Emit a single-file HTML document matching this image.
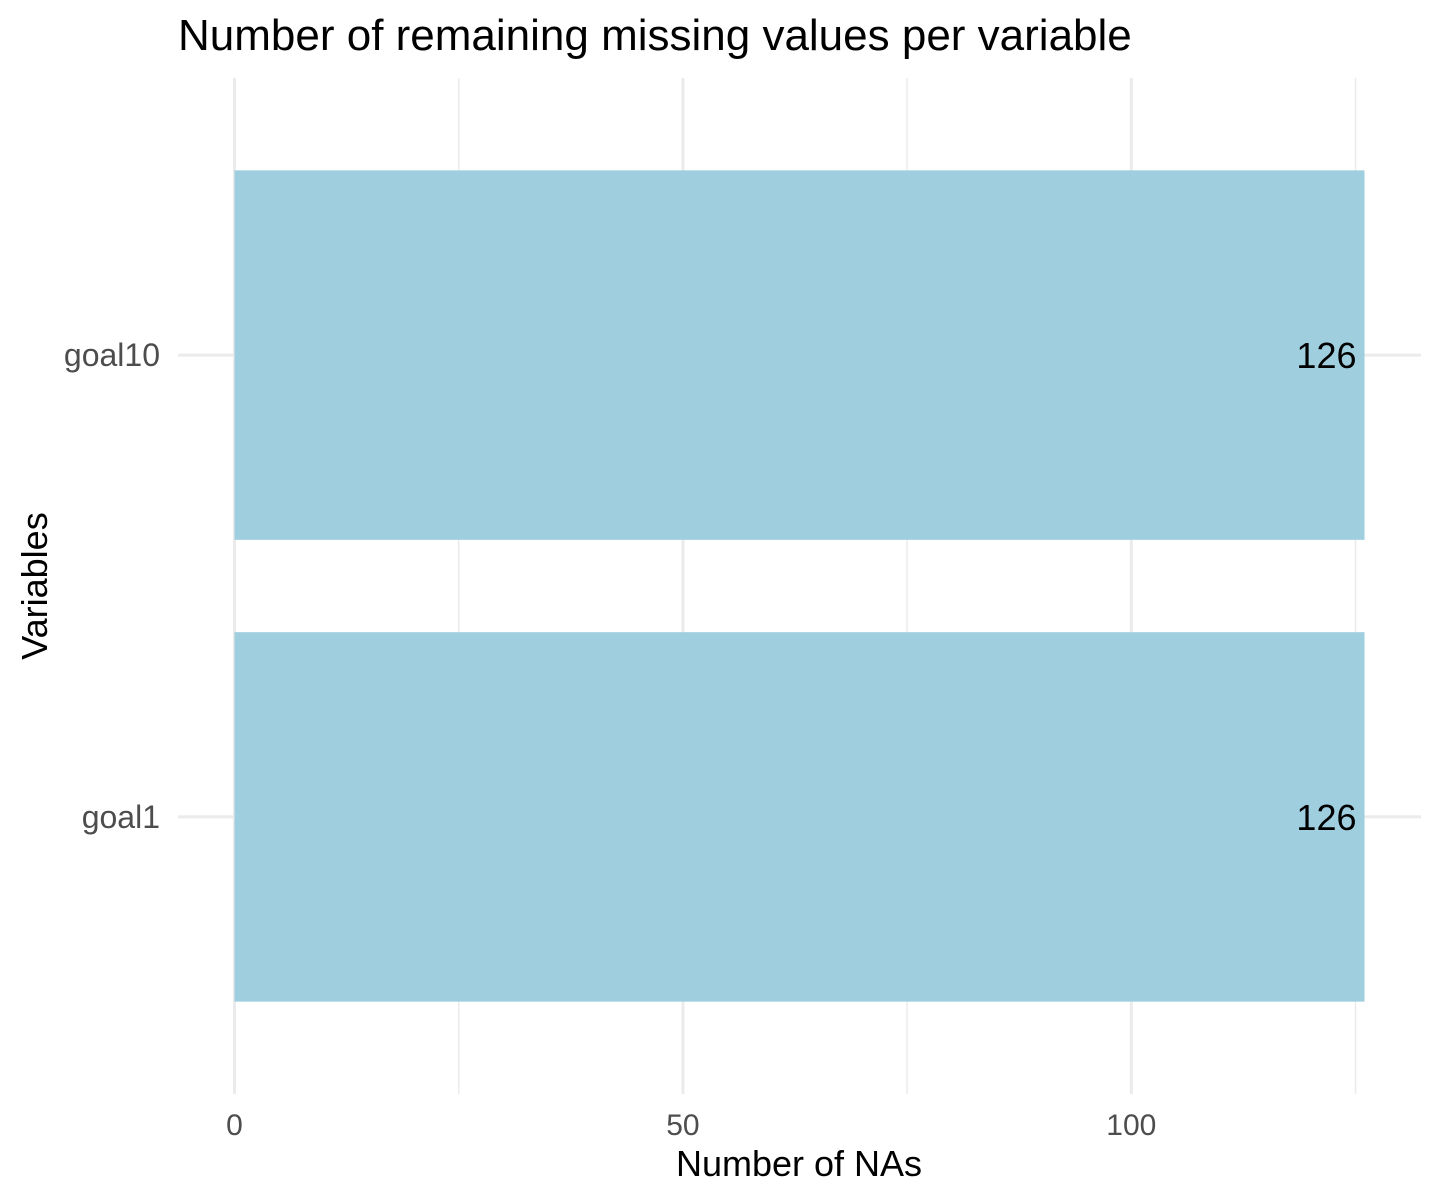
<!DOCTYPE html>
<html><head><meta charset="utf-8"><style>
html,body{margin:0;padding:0;background:#fff;}
svg{display:block;font-family:"Liberation Sans",Arial,sans-serif;}
</style></head><body>
<svg id="chart" width="1440" height="1200">
<text x="178" y="50" font-size="44" fill="#000">Number of remaining missing values per variable</text>
<g id="grid"></g>
<g id="bars"></g>
<g id="labels"></g>
<text x="799" y="1176" font-size="36" text-anchor="middle" fill="#000">Number of NAs</text>
<text transform="translate(47,586) rotate(-90)" font-size="36" text-anchor="middle" fill="#000">Variables</text>
</svg>
<script>
const categories = ["goal1", "goal10"];
const values = [126, 126];
const xTicks = [0, 50, 100];
const xMinor = [25, 75, 125];
const NS = "http://www.w3.org/2000/svg";
const pl = 178, pr = 1421, pt = 78, pb = 1094;
const xmax = Math.max(...values), xlo = -0.05 * xmax, xhi = xmax * 1.05;
function xs(v) { return pl + (v - xlo) / (xhi - xlo) * (pr - pl); }
const n = categories.length;
function ys(i) { const lo = 0.4, hi = n + 0.6; return pb - ((i + 1) - lo) / (hi - lo) * (pb - pt); }
const band = (pb - pt) / (n + 0.2);
function mk(tag, attrs, parent) { const e = document.createElementNS(NS, tag); for (const k in attrs) e.setAttribute(k, attrs[k]); parent.appendChild(e); return e; }
const grid = document.getElementById("grid"), bars = document.getElementById("bars"), labels = document.getElementById("labels");
xMinor.forEach(v => {
  const l = mk("line", {x1: xs(v), x2: xs(v), y1: pt, y2: pb, stroke: "#EBEBEB", "stroke-width": 1.5}, grid);
  
  
});
xTicks.forEach(v => {
  const l = mk("line", {x1: xs(v), x2: xs(v), y1: pt, y2: pb, stroke: "#EBEBEB", "stroke-width": 3}, grid);
  
  
  const t = mk("text", {x: xs(v), y: 1135, "font-size": 30, fill: "#4D4D4D", "text-anchor": "middle"}, labels);
  t.textContent = v;
  
  
});
categories.forEach((c, i) => {
  const y = ys(i);
  const l = mk("line", {x1: pl, x2: pr, y1: y, y2: y, stroke: "#EBEBEB", "stroke-width": 3}, grid);
  
  
  const bw = 0.8 * band;
  const r = mk("rect", {x: xs(0), y: y - bw / 2, width: xs(values[i]) - xs(0), height: bw, fill: "#9FCEDF"}, bars);
  
  
  const vt = mk("text", {x: xs(values[i]) - 8, y: y + 13, "font-size": 36, fill: "#000", "text-anchor": "end"}, labels);
  vt.textContent = values[i];
  
  
  const ct = mk("text", {x: 160, y: y + 11, "font-size": 32, fill: "#4D4D4D", "text-anchor": "end"}, labels);
  ct.textContent = c;
  
  
});
</script>
</body></html>
